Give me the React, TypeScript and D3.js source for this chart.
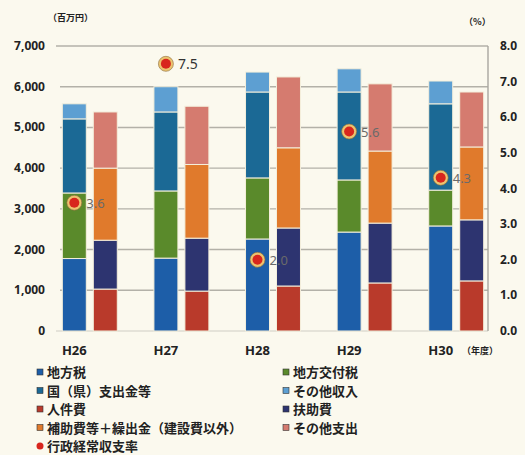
import React from "react";
import * as d3 from "d3";

// Fiscal years
const years = ["H26", "H27", "H28", "H29", "H30"];

// Revenue (百万円)
const localTax = [1780, 1790, 2260, 2430, 2580];
const allocationTax = [1610, 1650, 1500, 1280, 880];
const nationalSubsidy = [1820, 1940, 2110, 2160, 2120];
const otherIncome = [370, 620, 490, 570, 560];

// Expenditure (百万円)
const personnel = [1030, 980, 1105, 1180, 1230];
const welfare = [1200, 1300, 1425, 1470, 1500];
const transfers = [1770, 1810, 1970, 1770, 1790];
const otherSpend = [1380, 1430, 1740, 1650, 1350];

// 行政経常収支率 (%)
const ratio = [3.6, 7.5, 2.0, 5.6, 4.3];

const leftTicks = [0, 1000, 2000, 3000, 4000, 5000, 6000, 7000];
const rightTicks = [0, 1, 2, 3, 4, 5, 6, 7, 8];

const incomeSeries = [
  { key: "localTax", name: "地方税", values: localTax, color: "#1d5ea8" },
  { key: "allocationTax", name: "地方交付税", values: allocationTax, color: "#5a8a2b" },
  { key: "nationalSubsidy", name: "国（県）支出金等", values: nationalSubsidy, color: "#1b6995" },
  { key: "otherIncome", name: "その他収入", values: otherIncome, color: "#5d9fd2" },
];
const expenseSeries = [
  { key: "personnel", name: "人件費", values: personnel, color: "#b93a2b" },
  { key: "welfare", name: "扶助費", values: welfare, color: "#2d3470" },
  { key: "transfers", name: "補助費等＋繰出金（建設費以外）", values: transfers, color: "#e07a2c" },
  { key: "otherSpend", name: "その他支出", values: otherSpend, color: "#d57b6f" },
];

const W = 525;
const H = 455;
const top = 46;
const bottom = 331;
const plotRight = 488;

const FONT = "'Noto Sans', 'Noto Sans CJK JP', sans-serif";
const CJK = "'Noto Sans CJK JP', 'Noto Sans', sans-serif";

function stackRows(series: typeof incomeSeries) {
  const rows = years.map((y, i) => {
    const r: Record<string, number | string> = { year: y };
    series.forEach((s) => (r[s.key] = s.values[i]));
    return r;
  });
  return d3.stack<any>().keys(series.map((s) => s.key))(rows as any);
}

export default function App() {
  const x0 = d3
    .scaleBand<string>()
    .domain(years)
    .range([44, 502])
    .paddingInner(0.4)
    .paddingOuter(0.2);
  const x1 = d3
    .scaleBand<string>()
    .domain(["income", "expense"])
    .range([0, x0.bandwidth()])
    .paddingInner(0.226)
    .paddingOuter(0);
  const yL = d3.scaleLinear().domain([0, 7000]).range([bottom, top]);
  const yR = d3.scaleLinear().domain([0, 8]).range([bottom, top]);

  const incomeStack = stackRows(incomeSeries);
  const expenseStack = stackRows(expenseSeries);

  const groups = [
    { id: "income", stack: incomeStack, series: incomeSeries },
    { id: "expense", stack: expenseStack, series: expenseSeries },
  ];

  const incomeCenter = (y: string) =>
    (x0(y) ?? 0) + (x1("income") ?? 0) + x1.bandwidth() / 2;

  const legendItems = [
    incomeSeries[0], incomeSeries[1],
    incomeSeries[2], incomeSeries[3],
    expenseSeries[0], expenseSeries[1],
    expenseSeries[2], expenseSeries[3],
  ];
  const legendTop = 372;
  const legendStep = 18.5;

  return (
    <svg
      width={W}
      height={H}
      style={{ position: "absolute", left: 0, top: 0, background: "#fbf9ee" }}
    >
      <rect x={0} y={0} width={W} height={H} fill="#fbf9ee" />

      {/* grid */}
      {leftTicks.slice(1).map((t) => (
        <line
          key={t}
          x1={t === 7000 ? 56 : 60}
          x2={plotRight}
          y1={yL(t)}
          y2={yL(t)}
          stroke="#b3b1a8"
          strokeWidth={1.4}
        />
      ))}
      <line x1={56} x2={plotRight} y1={bottom} y2={bottom} stroke="#cfcdc4" strokeWidth={1} />
      <line x1={plotRight} x2={plotRight} y1={top} y2={bottom} stroke="#a9a7a0" strokeWidth={1.4} />

      {/* stacked bars */}
      {groups.map((g) =>
        g.stack.map((layer, li) => (
          <g key={g.id + layer.key} fill={g.series[li].color}>
            {layer.map((d, i) => (
              <rect
                key={years[i]}
                x={(x0(years[i]) ?? 0) + (x1(g.id) ?? 0)}
                width={x1.bandwidth()}
                y={yL(d[1])}
                height={yL(d[0]) - yL(d[1])}
                stroke="#f4efdc"
                strokeWidth={1}
              />
            ))}
          </g>
        ))
      )}

      {/* ratio markers */}
      {ratio.map((r, i) => {
        const cx = incomeCenter(years[i]);
        const cy = yR(r);
        return (
          <g key={years[i]}>
            <circle cx={cx} cy={cy} r={7.5} fill="#ecc46f" stroke="#8a6a3a" strokeWidth={0.6} />
            <circle cx={cx} cy={cy} r={5} fill="#d8261d" />
            <text
              x={cx + 12}
              y={cy + 5}
              fontFamily={FONT}
              fontSize={i === 1 ? 14 : 13}
              fill={i === 1 ? "#333" : "#6a6a6a"}
            >
              {r.toFixed(1)}
            </text>
          </g>
        );
      })}

      {/* left axis */}
      {leftTicks.map((t) => (
        <text
          key={t}
          x={45}
          y={yL(t) + 4}
          textAnchor="end"
          fontFamily={FONT}
          fontWeight={700}
          fontSize={12}
          fill="#222"
        >
          {d3.format(",")(t)}
        </text>
      ))}
      <text x={48} y={21} fontFamily={CJK} fontWeight={700} fontSize={9} fill="#222">
        （百万円）
      </text>

      {/* right axis */}
      {rightTicks.map((t) => (
        <text
          key={t}
          x={500}
          y={yR(t) + 4}
          fontFamily={FONT}
          fontWeight={700}
          fontSize={12}
          fill="#222"
        >
          {t.toFixed(1)}
        </text>
      ))}
      <text x={464} y={25} fontFamily={CJK} fontWeight={700} fontSize={9} fill="#222">
        （%）
      </text>

      {/* category axis */}
      {years.map((y) => (
        <text
          key={y}
          x={incomeCenter(y)}
          y={355}
          textAnchor="middle"
          fontFamily={FONT}
          fontWeight={700}
          fontSize={13}
          fill="#222"
        >
          {y}
        </text>
      ))}
      <text x={462} y={354} fontFamily={CJK} fontWeight={700} fontSize={9} fill="#222">
        （年度）
      </text>

      {/* legend */}
      {legendItems.map((s, i) => {
        const col = i % 2;
        const row = Math.floor(i / 2);
        const lx = col === 0 ? 37 : 283;
        const ly = legendTop + row * legendStep;
        return (
          <g key={s.key}>
            <rect x={lx} y={ly - 3} width={6} height={6} fill={s.color} stroke="#333" strokeWidth={0.6} />
            <text
              x={lx + 10}
              y={ly + 5}
              fontFamily={CJK}
              fontWeight={700}
              fontSize={13}
              fill="#222"
            >
              {s.name}
            </text>
          </g>
        );
      })}
      <circle cx={40} cy={legendTop + 4 * legendStep} r={3.5} fill="#d8261d" />
      <text
        x={47}
        y={legendTop + 4 * legendStep + 5}
        fontFamily={CJK}
        fontWeight={700}
        fontSize={13}
        fill="#222"
      >
        行政経常収支率
      </text>
    </svg>
  );
}
